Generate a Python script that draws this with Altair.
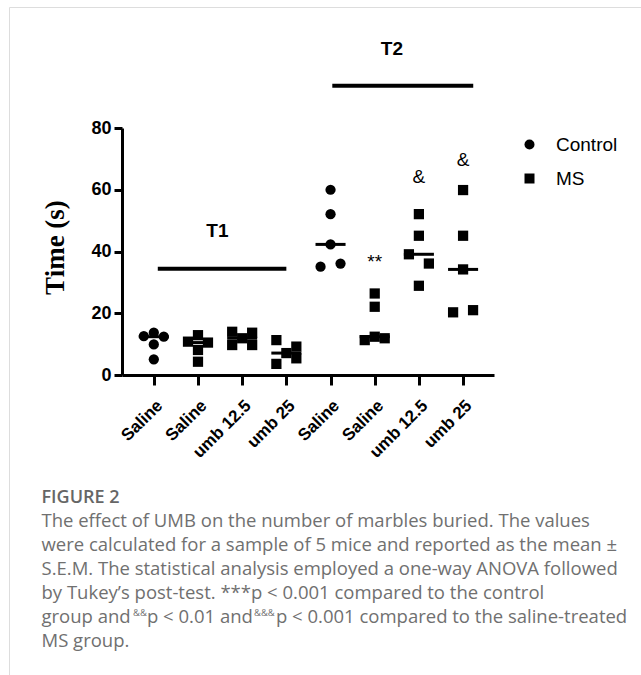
import altair as alt
import pandas as pd

# ---------------- data ----------------
group_labels = ["Saline", "Saline", "umb 12.5", "umb 25", "Saline", "Saline", "umb 12.5", "umb 25"]
group_series = ["Control", "MS", "MS", "MS", "Control", "MS", "MS", "MS"]

g1_values = [12.6, 13.7, 12.4, 9.9, 5.1]
g2_values = [12.9, 10.8, 10.5, 8.1, 4.3]
g3_values = [14.0, 13.7, 11.9, 9.7, 9.7]
g4_values = [11.3, 9.2, 7.1, 5.4, 3.6]
g5_values = [60.0, 52.1, 42.3, 36.1, 35.1]
g6_values = [26.4, 22.1, 12.4, 11.9, 11.3]
g7_values = [52.1, 45.1, 39.1, 36.1, 28.9]
g8_values = [59.9, 45.1, 34.2, 21.0, 20.3]

# horizontal spread of the scatter (-1 left, 0 centre, 1 right)
g1_spread = [-1, 0, 1, 0, 0]
g2_spread = [0, -1, 1, 0, 0]
g3_spread = [-1, 1, 0, -1, 1]
g4_spread = [-1, 1, 0, 1, -1]
g5_spread = [0, 0, 0, 1, -1]
g6_spread = [0, 0, 0, 1, -1]
g7_spread = [0, 0, -1, 1, 0]
g8_spread = [0, 0, 0, 1, -1]

group_centre = [12.4, 10.5, 11.9, 7.1, 42.3, 12.4, 39.1, 34.2]

annot_text = ["**", "&", "&"]
annot_group = [5, 6, 7]
annot_y = [36.5, 64.0, 69.5]

period_names = ["T1", "T2"]
period_start = [0.09, 4.04]
period_end = [3.0, 7.23]
period_bar_y = [34.4, 93.7]
period_label_x = [1.44, 5.39]
period_label_y = [46.6, 105.6]

y_ticks = [0, 20, 40, 60, 80]

caption_head = "FIGURE 2"
caption_lines = [
    "The effect of UMB on the number of marbles buried. The values",
    "were calculated for a sample of 5 mice and reported as the mean ±",
    "S.E.M. The statistical analysis employed a one-way ANOVA followed",
    "by Tukey’s post-test. ***p < 0.001 compared to the control",
]
caption_line5 = ["group and", "&&", "p < 0.01 and", "&&&", "p < 0.001 compared to the saline-treated"]
caption_last = "MS group."

# ---------------- tables ----------------
all_values = [g1_values, g2_values, g3_values, g4_values, g5_values, g6_values, g7_values, g8_values]
all_spread = [g1_spread, g2_spread, g3_spread, g4_spread, g5_spread, g6_spread, g7_spread, g8_spread]
rows = []
for gi, (vals, spr) in enumerate(zip(all_values, all_spread)):
    for v, s in zip(vals, spr):
        rows.append({"group": gi, "spread": s, "value": v, "series": group_series[gi]})
points = pd.DataFrame(rows)

centres = pd.DataFrame({"group": list(range(8)), "centre": group_centre})
annots = pd.DataFrame({"group": annot_group, "y": annot_y, "t": annot_text})
periods = pd.DataFrame({"name": period_names, "x1": period_start, "x2": period_end,
                        "y": period_bar_y, "lx": period_label_x, "ly": period_label_y})

# ---------------- scales ----------------
W, H = 372, 247
LEFT, TOP = 122, 128
xscale = alt.Scale(domain=[-0.72, 7.7], nice=False, zero=False)
yscale = alt.Scale(domain=[0, 80], nice=False)

label_expr = "[" + ",".join("'" + s + "'" for s in group_labels) + "][datum.value]"

x_axis = alt.Axis(values=list(range(8)), labelExpr=label_expr, title=None, grid=False,
                  labelAngle=-45, labelAlign="right", labelBaseline="top", labelOverlap=False,
                  labelFont="Liberation Sans", labelFontWeight="bold", labelFontSize=17,
                  labelColor="black", labelPadding=12, tickSize=10, tickWidth=3,
                  tickColor="black", domainColor="black", domainWidth=3)
y_axis = alt.Axis(values=y_ticks, title="Time (s)", grid=False,
                  labelFont="Liberation Sans", labelFontWeight="bold", labelFontSize=18,
                  labelColor="black", labelPadding=3, tickSize=8, tickWidth=3,
                  tickColor="black", domainColor="black", domainWidth=3,
                  titleFont="Liberation Serif", titleFontWeight="bold", titleFontSize=27,
                  titleColor="black", titlePadding=21, titleY=119)

base_pts = alt.Chart(points).transform_calculate(xpos="datum.group + datum.spread * 0.226")

pts = base_pts.mark_point(filled=True, opacity=1, size=105).encode(
    x=alt.X("xpos:Q", scale=xscale, axis=x_axis),
    y=alt.Y("value:Q", scale=yscale, axis=y_axis),
    shape=alt.Shape("series:N",
                    scale=alt.Scale(domain=["Control", "MS"], range=["circle", "square"]),
                    legend=alt.Legend(title=None, orient="none", legendX=398, legendY=7,
                                      padding=0, symbolSize=100, symbolFillColor="black",
                                      symbolStrokeColor="black", symbolType="circle",
                                      labelFont="Liberation Sans", labelFontSize=19,
                                      labelColor="black", labelOffset=17, rowPadding=14)),
    color=alt.value("black"),
)

centre_lines = alt.Chart(centres).transform_calculate(
    a="datum.group - 0.34", b="datum.group + 0.34"
).mark_rule(color="black", strokeWidth=3).encode(
    x=alt.X("a:Q", scale=xscale), x2="b:Q", y=alt.Y("centre:Q", scale=yscale)
)

annot_marks = alt.Chart(annots).mark_text(font="Liberation Sans", fontSize=19, color="black",
                                          baseline="middle").encode(
    x=alt.X("group:Q", scale=xscale), y=alt.Y("y:Q", scale=yscale), text="t:N"
)

period_bars = alt.Chart(periods).mark_rule(color="black", strokeWidth=4).encode(
    x=alt.X("x1:Q", scale=xscale), x2="x2:Q", y=alt.Y("y:Q", scale=yscale)
)
period_labels = alt.Chart(periods).mark_text(font="Liberation Sans", fontWeight="bold",
                                             fontSize=19, color="black", baseline="middle").encode(
    x=alt.X("lx:Q", scale=xscale), y=alt.Y("ly:Q", scale=yscale), text="name:N"
)

# ---------------- frame and caption (page layout) ----------------
frame_top = alt.Chart(pd.DataFrame({"k": [0]})).mark_rule(color="#dddddd", strokeWidth=1).encode(
    x=alt.value(9.5 - LEFT), x2=alt.value(641 - LEFT), y=alt.value(7.5 - TOP))
frame_left = alt.Chart(pd.DataFrame({"k": [0]})).mark_rule(color="#dddddd", strokeWidth=1).encode(
    x=alt.value(9.5 - LEFT), y=alt.value(7.5 - TOP), y2=alt.value(675 - TOP))

CX = 41.5 - LEFT
cap_font = "Open Sans"
cap_color = "#707070"
cap_size = 18.5
head = alt.Chart(pd.DataFrame({"t": [caption_head]})).mark_text(
    font=cap_font, fontSize=18, fontWeight=600, color="#666666", align="left",
    baseline="alphabetic").encode(x=alt.value(CX), y=alt.value(503 - TOP), text="t:N")
body = alt.Chart(pd.DataFrame({"t": ["\n".join(caption_lines)]})).mark_text(
    font=cap_font, fontSize=cap_size, color=cap_color, align="left", baseline="alphabetic",
    lineBreak="\n", lineHeight=24).encode(x=alt.value(CX), y=alt.value(527 - TOP), text="t:N")

l5_x = [41.5, 133, 147, 254, 276]
l5_size = [cap_size, 9.5, cap_size, 9.5, cap_size]
l5_dy = [0, -7, 0, -7, 0]
line5_layers = []
for t, xx, fs, dy in zip(caption_line5, l5_x, l5_size, l5_dy):
    line5_layers.append(
        alt.Chart(pd.DataFrame({"t": [t]})).mark_text(
            font=cap_font, fontSize=fs, color=cap_color, align="left", baseline="alphabetic"
        ).encode(x=alt.value(xx - LEFT), y=alt.value(623 + dy - TOP), text="t:N"))
last = alt.Chart(pd.DataFrame({"t": [caption_last]})).mark_text(
    font=cap_font, fontSize=cap_size, color=cap_color, align="left", baseline="alphabetic"
).encode(x=alt.value(CX), y=alt.value(647 - TOP), text="t:N")

chart = alt.layer(
    frame_top, frame_left, period_bars, period_labels, centre_lines, pts, annot_marks,
    head, body, *line5_layers, last
).properties(
    width=W, height=H,
    padding={"left": LEFT, "top": TOP, "right": 641 - LEFT - W, "bottom": 675 - TOP - H},
    autosize=alt.AutoSizeParams(type="none"),
    background="white",
).configure_view(stroke=None)

chart.save("out.html", embed_options={"renderer": "svg", "actions": False})
